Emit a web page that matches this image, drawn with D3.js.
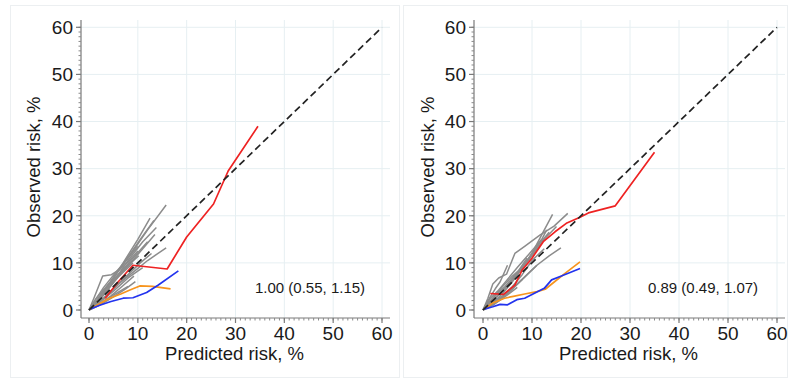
<!DOCTYPE html>
<html>
<head>
<meta charset="utf-8">
<script src="https://cdn.jsdelivr.net/npm/d3@7"></script>
<style>
  html, body { margin: 0; padding: 0; background: #ffffff; }
  svg { display: block; font-family: "Liberation Sans", Arial, sans-serif; }
</style>
</head>
<body>
<svg id="chart" width="788" height="379"></svg>
<script>
// Axis ticks (percent)
const majorTicks = [0, 10, 20, 30, 40, 50, 60];
const minorTicks = d3.range(0, 61, 1);
const gridTicks = [10, 20, 30, 40, 50, 60];
const diagonal = [[0, 0], [60, 60]];

// Left panel: [predicted, observed]
const leftRed = [[3.3, 2.5], [6, 6], [9, 9.5], [16, 8.7], [20, 15.5], [25.5, 22.5], [28.5, 29.5], [34.6, 39]];
const leftBlue = [[0.3, 0.2], [2.2, 1.0], [4.5, 1.8], [7, 2.5], [9, 2.6], [11.8, 3.7], [14.2, 5.3], [18.3, 8.3]];
const leftOrange = [[0.3, 0.2], [2, 1.2], [4, 2.4], [6.5, 3.4], [8.5, 4.3], [10.4, 5.1], [13, 5.0], [16.7, 4.5]];
const leftGrey = [
  [[0, 0], [1.5, 1.8], [3.5, 4.5], [6, 8.2], [9, 12.5], [12, 17], [15.8, 22.3]],
  [[0, 0], [2, 2.5], [4.5, 6], [7, 10], [10, 15], [12.5, 19.5]],
  [[0, 0], [1.8, 2.2], [4, 5.5], [7.5, 10.5], [10.5, 15], [13.3, 19]],
  [[0, 0], [2, 2], [5, 6], [8, 10.5], [11, 14.5], [13.8, 17.5]],
  [[0, 0], [2.5, 2.5], [5.5, 6.5], [8.5, 10], [11, 13], [13.5, 16]],
  [[0, 0], [1, 1.2], [3, 4], [6, 7.5], [9, 11], [12, 14.5]],
  [[0, 0], [3, 2.5], [6, 5.5], [9, 8], [12, 10.5], [15.8, 13.2]],
  [[0, 0], [2.5, 2], [5, 4.5], [8, 7.5], [10.5, 10], [12.8, 12]],
  [[0, 0], [1.5, 2.5], [4, 5.5], [7, 8.5], [10.2, 11.5]],
  [[0, 0], [1, 2.5], [2.8, 7.2], [4.6, 7.5], [6.5, 8.8], [8, 10.2], [10, 12.5]],
  [[0, 0], [2, 1.2], [4.5, 3], [7, 5.2], [9.2, 7.2]],
  [[0, 0], [2.5, 1.2], [5, 2.8], [7.5, 4.5], [9.5, 6]],
  [[0, 0], [2, 1], [4, 2.5], [6, 3.8], [8, 5]],
  [[0, 0], [2, 1.5], [5, 4], [8, 6.8], [11, 9]],
  [[0, 0], [1.5, 1.5], [3.5, 4], [6, 7], [9, 10]],
  [[0, 0], [1.2, 2], [3, 4.8], [5.5, 8], [8, 11], [10, 13.5]]
];
const leftLabel = "1.00 (0.55, 1.15)";

// Right panel
const rightRed = [[1.5, 3.5], [4.2, 3.3], [6.5, 5.3], [8, 8.5], [10, 11], [12.3, 14.5], [14.7, 16.6], [17, 18.4], [19.8, 19.7], [21.5, 20.6], [27, 22.1], [35, 33.5]];
const rightBlue = [[0.3, 0.2], [2, 0.7], [3.5, 1.2], [5, 1.1], [6.9, 2.2], [8.5, 2.5], [10.6, 3.6], [12.5, 4.6], [14, 6.4], [16, 7.2], [19.8, 8.8]];
const rightOrange = [[0.3, 0.2], [2, 1.5], [4.4, 2.5], [6.2, 2.9], [8.5, 3.4], [11, 3.9], [12.7, 4.4], [14.6, 6.0], [17, 8.0], [19.8, 10.2]];
const rightGrey = [
  [[0, 0], [1, 2.5], [2, 5.5], [3.2, 6.8], [4.8, 7.6], [6.5, 12], [8.5, 13.5], [11.6, 15.9], [14.5, 17.8], [17.3, 20.5]],
  [[0, 0], [2, 1.5], [4, 3.5], [6, 6], [8, 9], [10, 12], [12, 16], [14.2, 20.3]],
  [[0, 0], [2, 2], [4, 4], [7, 7.5], [10, 11.5], [12.5, 15], [15, 17.7]],
  [[0, 0], [2.5, 1.5], [5, 3.5], [8, 6.5], [11, 9.5], [13.5, 11.5], [15.9, 13.2]],
  [[0, 0], [1, 2], [2.5, 4.5], [3.5, 6], [5, 9.5]],
  [[0, 0], [1.5, 1.5], [3.5, 3.5], [6, 6.5], [9, 10.5], [11.5, 14], [13.5, 16.5]],
  [[0, 0], [1.5, 2.5], [3, 4], [5, 6.5], [7, 9], [9.5, 12], [12, 15]],
  [[0, 0], [2, 1], [4, 2.5], [6.5, 5], [9, 7.5], [11, 9.5]],
  [[0, 0], [1.5, 1], [3.5, 2.5], [6, 4.5], [8, 6.5]],
  [[0, 0], [2, 1.8], [4, 3], [6, 5], [8, 7.5], [10, 10.5], [12.5, 13]],
  [[0, 0], [1, 1.5], [2.5, 3], [4.5, 5], [7, 8], [9, 11]],
  [[0, 0], [2, 2.5], [4, 5], [6, 7.2], [8, 9], [10, 12], [12, 15], [13, 17]],
  [[0, 0], [1.2, 0.8], [3, 1.8], [5, 3.2], [7, 4.8]]
];
const rightLabel = "0.89 (0.49, 1.07)";

const svg = d3.select('#chart');

const panels = [
  { frame: [10, 5, 389, 372], x0: 89, x1: 382, axisX: 81, axisEnd: 390, titleX: 40, labelX: 255,
    red: leftRed, blue: leftBlue, orange: leftOrange, grey: leftGrey, label: leftLabel },
  { frame: [403, 5, 384, 372], x0: 483, x1: 777, axisX: 474, axisEnd: 785, titleX: 434, labelX: 648,
    red: rightRed, blue: rightBlue, orange: rightOrange, grey: rightGrey, label: rightLabel }
];

panels.forEach((p) => {
  const g = svg.append('g');

  // faint panel frame
  g.append('rect')
    .attr('x', p.frame[0] + 0.5)
    .attr('y', p.frame[1] + 0.5)
    .attr('width', p.frame[2])
    .attr('height', p.frame[3])
    .attr('fill', 'none')
    .attr('stroke', '#eceff1');

  const x = d3.scaleLinear().domain([0, 60]).range([p.x0, p.x1]);
  const y = d3.scaleLinear().domain([0, 60]).range([310, 27.3]);
  const axisY = 318;
  const top = 20;

  // Grid
  g.selectAll('.vgrid')
    .data(gridTicks)
    .enter()
    .append('line')
    .attr('x1', (d) => x(d))
    .attr('x2', (d) => x(d))
    .attr('y1', top)
    .attr('y2', axisY)
    .attr('stroke', '#e6eff2')
    .attr('stroke-width', 1);

  g.selectAll('.hgrid')
    .data(gridTicks)
    .enter()
    .append('line')
    .attr('x1', p.axisX)
    .attr('x2', p.axisEnd)
    .attr('y1', (d) => y(d))
    .attr('y2', (d) => y(d))
    .attr('stroke', '#e6eff2')
    .attr('stroke-width', 1);

  const line = d3.line().x((d) => x(d[0])).y((d) => y(d[1]));

  // Grey subgroup curves
  g.selectAll('.grey')
    .data(p.grey)
    .enter()
    .append('path')
    .attr('d', line)
    .attr('fill', 'none')
    .attr('stroke', '#8c8c8c')
    .attr('stroke-width', 1.5)
    .attr('stroke-linejoin', 'round');

  // Coloured curves
  [[p.orange, '#f7941d'], [p.blue, '#2233ee'], [p.red, '#ee2222']].forEach(([data, color]) => {
    g.append('path')
      .datum(data)
      .attr('d', line)
      .attr('fill', 'none')
      .attr('stroke', color)
      .attr('stroke-width', 1.7)
      .attr('stroke-linejoin', 'round');
  });

  // Reference diagonal
  g.append('path')
    .datum(diagonal)
    .attr('d', line)
    .attr('fill', 'none')
    .attr('stroke', '#222222')
    .attr('stroke-width', 1.7)
    .attr('stroke-dasharray', '7 4');

  // Axes
  const xAxis = g.append('g').attr('transform', `translate(0,${axisY})`);
  xAxis.append('line')
    .attr('x1', p.axisX).attr('x2', p.axisEnd)
    .attr('y1', 0).attr('y2', 0)
    .attr('stroke', '#7a7a7a').attr('stroke-width', 1.2);
  xAxis.selectAll('.minor')
    .data(minorTicks)
    .enter()
    .append('line')
    .attr('x1', (d) => x(d)).attr('x2', (d) => x(d))
    .attr('y1', 0).attr('y2', 2.5)
    .attr('stroke', '#8a8a8a').attr('stroke-width', 1);
  xAxis.selectAll('.major')
    .data(majorTicks)
    .enter()
    .append('line')
    .attr('x1', (d) => x(d)).attr('x2', (d) => x(d))
    .attr('y1', 0).attr('y2', 5)
    .attr('stroke', '#7a7a7a').attr('stroke-width', 1.2);
  xAxis.selectAll('.lbl')
    .data(majorTicks)
    .enter()
    .append('text')
    .attr('x', (d) => x(d))
    .attr('y', 22)
    .attr('text-anchor', 'middle')
    .attr('font-size', '19px')
    .attr('fill', '#1a1a1a')
    .text((d) => d);

  const yAxis = g.append('g').attr('transform', `translate(${p.axisX},0)`);
  yAxis.append('line')
    .attr('x1', 0).attr('x2', 0)
    .attr('y1', top).attr('y2', axisY)
    .attr('stroke', '#7a7a7a').attr('stroke-width', 1.2);
  yAxis.selectAll('.minor')
    .data(minorTicks)
    .enter()
    .append('line')
    .attr('y1', (d) => y(d)).attr('y2', (d) => y(d))
    .attr('x1', 0).attr('x2', -2.5)
    .attr('stroke', '#8a8a8a').attr('stroke-width', 1);
  yAxis.selectAll('.major')
    .data(majorTicks)
    .enter()
    .append('line')
    .attr('y1', (d) => y(d)).attr('y2', (d) => y(d))
    .attr('x1', 0).attr('x2', -5)
    .attr('stroke', '#7a7a7a').attr('stroke-width', 1.2);
  yAxis.selectAll('.lbl')
    .data(majorTicks)
    .enter()
    .append('text')
    .attr('x', -8)
    .attr('y', (d) => y(d))
    .attr('dy', '0.36em')
    .attr('text-anchor', 'end')
    .attr('font-size', '19px')
    .attr('fill', '#1a1a1a')
    .text((d) => d);

  // Titles
  g.append('text')
    .attr('x', (p.axisX + p.axisEnd) / 2 - 1)
    .attr('y', 360)
    .attr('text-anchor', 'middle')
    .attr('font-size', '18.5px')
    .attr('fill', '#1a1a1a')
    .text('Predicted risk, %');

  g.append('text')
    .attr('transform', `translate(${p.titleX},167) rotate(-90)`)
    .attr('text-anchor', 'middle')
    .attr('font-size', '18.5px')
    .attr('fill', '#1a1a1a')
    .text('Observed risk, %');

  // Calibration slope annotation
  g.append('text')
    .attr('x', p.labelX)
    .attr('y', 293)
    .attr('font-size', '15px')
    .attr('fill', '#1a1a1a')
    .text(p.label);
});
</script>
</body>
</html>
